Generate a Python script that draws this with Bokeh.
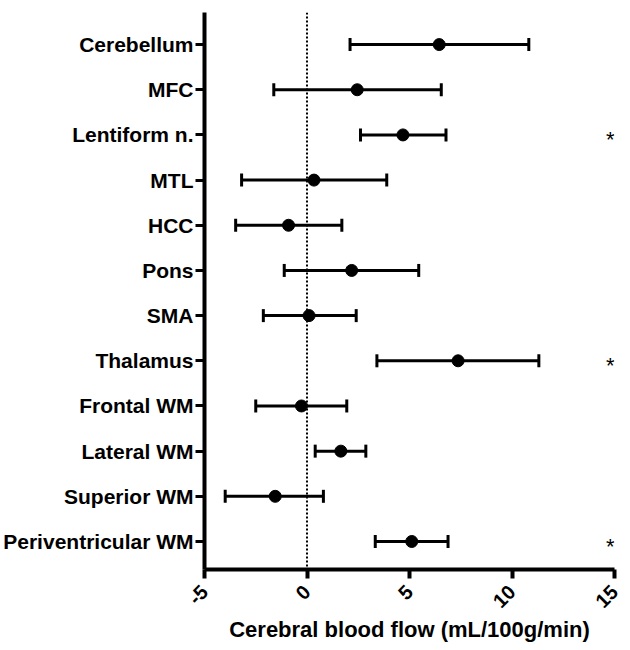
import math
from bokeh.plotting import figure
from bokeh.models import (Range1d, FixedTicker, Whisker, TeeHead, ColumnDataSource, Span)
from bokeh.core.properties import value
from bokeh.embed import file_html
from bokeh.resources import INLINE

regions = ["Cerebellum", "MFC", "Lentiform n.", "MTL", "HCC", "Pons", "SMA",
           "Thalamus", "Frontal WM", "Lateral WM", "Superior WM", "Periventricular WM"]
means = [6.45, 2.45, 4.68, 0.34, -0.90, 2.18, 0.10, 7.37, -0.27, 1.65, -1.55, 5.11]
lower = [2.10, -1.62, 2.61, -3.19, -3.48, -1.11, -2.13, 3.41, -2.50, 0.40, -3.99, 3.33]
upper = [10.82, 6.55, 6.78, 3.89, 1.70, 5.45, 2.40, 11.31, 1.94, 2.87, 0.80, 6.88]
significant = [False, False, True, False, False, False, False, True, False, False, False, True]
x_ticks = [-5, 0, 5, 10, 15]
x_tick_labels = ["-5", "0", "5", "10", "15"]
x_title = "Cerebral blood flow (mL/100g/min)"

n = len(regions)
ypos = [n - i for i in range(n)]

FONT = "Liberation Sans"

p = figure(frame_width=410, frame_height=557,
           x_range=Range1d(-5, 15), y_range=Range1d(0.38, 12.71),
           output_backend="svg", toolbar_location=None,
           min_border_left=199, min_border_right=13, min_border_top=12, min_border_bottom=66)
p.outline_line_color = None
p.xgrid.visible = False
p.ygrid.visible = False

src = ColumnDataSource(dict(y=ypos, m=means, lo=lower, hi=upper))

p.add_layout(Span(location=0, dimension="height", line_color="black",
                  line_width=2, line_dash="2 2"))

w = Whisker(source=src, base="y", lower="lo", upper="hi", dimension="width",
            line_color="black", line_width=3,
            upper_head=TeeHead(size=13, line_width=3, line_color="black"),
            lower_head=TeeHead(size=13, line_width=3, line_color="black"))
p.add_layout(w)

p.scatter(x="m", y="y", source=src, size=12, color="black")

sig_y = [ypos[i] for i in range(n) if significant[i]]
p.text(x=[14.8] * len(sig_y), y=sig_y, text=["*"] * len(sig_y),
       text_font=value(FONT), text_font_size="22px", text_align="center",
       text_baseline="middle", y_offset=5, text_color="black")

# y axis
p.yaxis.ticker = FixedTicker(ticks=ypos)
p.yaxis.major_label_overrides = {y: r for y, r in zip(ypos, regions)}
p.yaxis.minor_tick_line_color = None
p.yaxis.major_tick_in = 0
p.yaxis.major_tick_out = 9
p.yaxis.major_tick_line_width = 3
p.yaxis.axis_line_width = 4
p.yaxis.major_label_standoff = 2
p.yaxis.major_label_text_font = FONT
p.yaxis.major_label_text_font_style = "bold"
p.yaxis.major_label_text_font_size = "21px"
p.yaxis.major_label_text_color = "black"

# x axis
p.xaxis.ticker = FixedTicker(ticks=x_ticks)
p.xaxis.major_label_overrides = {t: s for t, s in zip(x_ticks, x_tick_labels)}
p.xaxis.minor_tick_line_color = None
p.xaxis.major_tick_in = 0
p.xaxis.major_tick_out = 9
p.xaxis.major_tick_line_width = 4
p.xaxis.axis_line_width = 4
p.xaxis.major_label_orientation = math.pi / 4
p.xaxis.major_label_standoff = 10
p.xaxis.major_label_text_font = FONT
p.xaxis.major_label_text_font_style = "bold"
p.xaxis.major_label_text_font_size = "20px"
p.xaxis.major_label_text_color = "black"
p.xaxis.axis_label = x_title
p.xaxis.axis_label_text_font = FONT
p.xaxis.axis_label_text_font_style = "bold"
p.xaxis.axis_label_text_font_size = "22px"
p.xaxis.axis_label_text_color = "black"
p.xaxis.axis_label_standoff = 0

open("out.html", "w").write(file_html(p, INLINE))
